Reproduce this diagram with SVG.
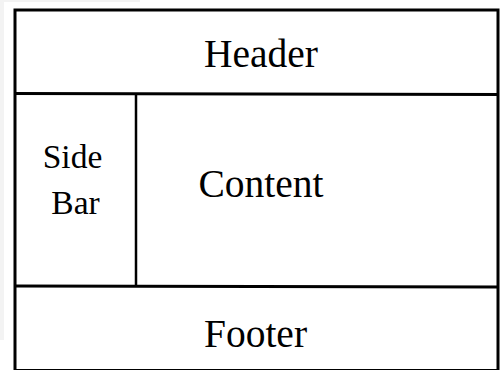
<svg xmlns="http://www.w3.org/2000/svg" width="501" height="370" viewBox="0 0 501 370">
<style>
.box{fill:none;stroke:#000;stroke-width:3}
.div{stroke:#000;stroke-width:3}
.vdiv{stroke:#000;stroke-width:2.5}
text{font-family:"Liberation Serif","Times New Roman",serif;fill:#000;text-anchor:middle}
.big{font-size:39.5px}
.small{font-size:33.5px}
</style>
<rect x="0" y="0" width="501" height="370" fill="#fff"/>
<rect x="0" y="0" width="140" height="2" fill="#f3f3f3"/>
<rect x="0" y="0" width="4" height="340" fill="#f3f3f3"/>
<g id="frame">
<rect class="box" x="15" y="10" width="483" height="360.5"/>
</g>
<g id="connectors">
<line class="div" x1="15" y1="93.5" x2="498" y2="94.5"/>
<line class="vdiv" x1="136" y1="93.5" x2="136" y2="286"/>
<line class="div" x1="15" y1="286" x2="498" y2="287"/>
</g>
<g id="header"><text class="big" x="261" y="67">Header</text></g>
<g id="sidebar"><text class="small" x="72.5" y="168">Side</text><text class="small" x="75.5" y="214">Bar</text></g>
<g id="content"><text class="big" x="261" y="197">Content</text></g>
<g id="footer"><text class="big" x="255.5" y="347">Footer</text></g>
</svg>
